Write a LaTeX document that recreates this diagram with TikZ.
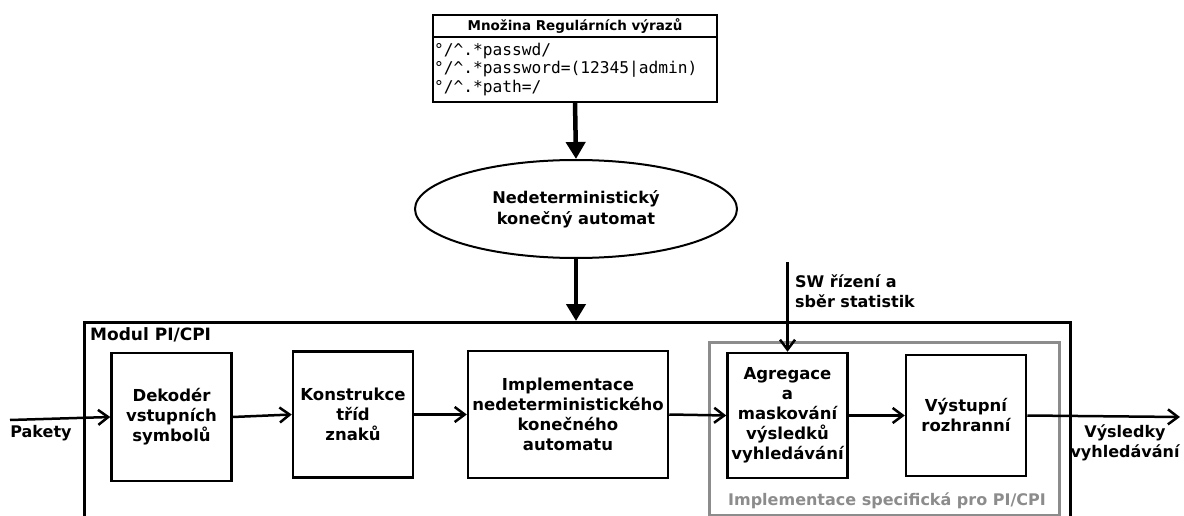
\documentclass[tikz,border=0pt]{standalone}
\usepackage{fontspec}
\setmainfont{DejaVu Sans}
\setmonofont{DejaVu Sans Mono}
\usetikzlibrary{shapes.geometric,arrows.meta}
\definecolor{specgray}{HTML}{8C8C8C}
\begin{document}
\begin{tikzpicture}[x=1pt,y=-1pt,
  blk/.style={draw,line width=2.5pt,minimum width=120pt,align=center,inner sep=1pt,
    font=\bfseries\fontsize{16.5}{20}\selectfont},
  lbl/.style={inner sep=0pt,font=\bfseries\fontsize{16}{20}\selectfont},
  flow/.style={line width=2.5pt,-{Straight Barb[length=10pt,width=15pt]}},
  big/.style={line width=4.5pt,-{Triangle[length=17pt,width=19pt]}}]
\useasboundingbox (0,0) rectangle (1184,516);
\clip (0,0) rectangle (1184,516);

% regex set
\node[draw,line width=2pt,outer sep=0pt,minimum width=284pt,minimum height=22pt,inner sep=0pt,
  font=\bfseries\fontsize{13.5}{15}\selectfont] (title) at (575,26) {Množina Regulárních výrazů};
\node[draw,line width=2pt,outer sep=0pt,text width=282pt,minimum height=65pt,align=left,inner sep=1pt,
  anchor=north,font=\ttfamily\fontsize{16.2}{18.5}\selectfont] (regex) at (title.south)
  {°/\textasciicircum.*passwd/\\°/\textasciicircum.*password=(12345|admin)\\°/\textasciicircum.*path=/};

% NFA
\node[ellipse,draw,line width=2pt,minimum width=322pt,minimum height=98pt,align=center,
  inner sep=0pt,font=\bfseries\fontsize{16.2}{21}\selectfont] (nfa) at (576,209)
  {Nedeterministický\\konečný automat};

% module container
\node[draw,line width=2.5pt,minimum width=986pt,minimum height=260pt,anchor=north west,inner sep=0pt] (mod) at (83,321) {};
\node[lbl,anchor=north west,font=\bfseries\fontsize{17}{20}\selectfont] (modl) at (90,327) {Modul PI/CPI};

% specific implementation container
\node[draw=specgray,line width=2.5pt,minimum width=350pt,minimum height=173pt,anchor=north west,inner sep=0pt] (spec) at (708,341) {};
\node[lbl,text=specgray] (specl) at (887,501) {Implementace specifická pro PI/CPI};

% blocks
\node[blk,minimum height=128pt] (dek) at (171.5,417) {Dekodér\\vstupních\\symbolů};
\node[blk,minimum height=126pt] (kon) at (353,414.5) {Konstrukce\\tříd\\znaků};
\node[blk,minimum width=200pt,minimum height=127pt] (impl) at (568,414.5)
  {Implementace\\nedeterministického\\konečného\\automatu};
\node[blk,minimum height=125pt] (agr) at (787.5,415.5) {Agregace\\a\\maskování\\výsledků\\vyhledávání};
\node[blk,minimum height=121pt] (vys) at (966,415.5) {Výstupní\\rozhranní};

% free ends
\coordinate (pin) at (10,420);
\coordinate (pout) at (1180,417);
\coordinate (sw) at (787.5,262);

% labels
\node[lbl] (pak) at (41,433) {Pakety};
\node[lbl,align=center] (res) at (1125,443) {Výsledky\\vyhledávání};
\node[lbl,align=left,anchor=north west] (swl) at (795,275) {SW řízení a\\sběr statistik};

% connectors
\draw[big] (regex.south) -- (nfa.north);
\draw[big] (nfa.south) -- (nfa.south |- mod.north);
\draw[flow] (pin) -- (dek.west);
\draw[flow] (dek.east) -- (kon.west);
\draw[flow] (kon.east) -- (impl.west);
\draw[flow] (impl.east) -- (agr.west);
\draw[flow] (agr.east) -- (vys.west);
\draw[flow] (vys.east) -- (pout);
\draw[flow] (sw) -- (agr.north);
\end{tikzpicture}
\end{document}
